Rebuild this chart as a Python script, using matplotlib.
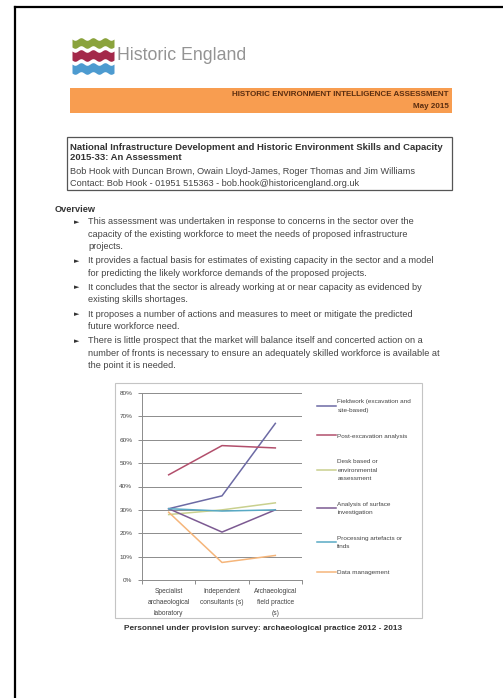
import numpy as np
import matplotlib
matplotlib.use('Agg')
import matplotlib.pyplot as plt
from matplotlib.patches import Rectangle

W, H = 503, 698          # page size in pixels
FONT = 'Liberation Sans'

# chart data ------------------------------------------------------------------------
categories = ['Specialist\narchaeological\nlaboratory',
              'Independent\nconsultants (s)',
              'Archaeological\nfield practice\n(s)']
series_names = ['Fieldwork (excavation and\nsite-based)',
                'Post-excavation analysis',
                'Desk based or\nenvironmental\nassessment',
                'Analysis of surface\ninvestigation',
                'Processing artefacts or\nfinds',
                'Data management']
fieldwork = [0.305, 0.36, 0.67]
post_excavation = [0.45, 0.575, 0.565]
desk_based = [0.28, 0.30, 0.33]
surface = [0.305, 0.205, 0.30]
processing = [0.305, 0.295, 0.30]
data_management = [0.29, 0.075, 0.105]
series_colors = ['#6c6aa4', '#b24f6c', '#c9d08e', '#7c5a92', '#58a9c4', '#f5b57a']
y_ticks = [0.0, 0.1, 0.2, 0.3, 0.4, 0.5, 0.6, 0.7, 0.8]
y_tick_labels = ['0%', '10%', '20%', '30%', '40%', '50%', '60%', '70%', '80%']
caption = 'Personnel under provision survey: archaeological practice 2012 - 2013'

# page text -------------------------------------------------------------------------
banner_lines = ['HISTORIC ENVIRONMENT INTELLIGENCE ASSESSMENT', 'May 2015']
title_lines = ['National Infrastructure Development and Historic Environment Skills and Capacity',
               '2015-33: An Assessment']
author_lines = ['Bob Hook with Duncan Brown, Owain Lloyd-James, Roger Thomas and Jim Williams',
                'Contact: Bob Hook - 01951 515363 - bob.hook@historicengland.org.uk']
bullets = [
    ['This assessment was undertaken in response to concerns in the sector over the',
     'capacity of the existing workforce to meet the needs of proposed infrastructure',
     'projects.'],
    ['It provides a factual basis for estimates of existing capacity in the sector and a model',
     'for predicting the likely workforce demands of the proposed projects.'],
    ['It concludes that the sector is already working at or near capacity as evidenced by',
     'existing skills shortages.'],
    ['It proposes a number of actions and measures to meet or mitigate the predicted',
     'future workforce need.'],
    ['There is little prospect that the market will balance itself and concerted action on a',
     'number of fronts is necessary to ensure an adequately skilled workforce is available at',
     'the point it is needed.'],
]

fig = plt.figure(figsize=(W / 100, H / 100), dpi=100)
fig.patch.set_facecolor('white')

# page layer in pixel coordinates ---------------------------------------------------
page = fig.add_axes([0, 0, 1, 1])
page.set_xlim(0, W)
page.set_ylim(H, 0)
page.axis('off')

# scan border
page.plot([15, 15], [7, H], color='black', lw=1.6)
page.plot([15, W], [7, 7], color='black', lw=1.6)

# logo: three wavy bands
xs = np.linspace(72, 114, 200)
for top, bot, col in [(39, 47, '#8aa33c'), (51, 60, '#a3284a'), (64, 73, '#4d9bd0')]:
    wave = 1.3 * np.sin((xs - 72) / 42 * 2 * np.pi * 3.5)
    page.fill_between(xs, top + wave, bot + wave, color=col, lw=0)
page.text(117, 55, 'Historic England', fontsize=12.8, color='#949494',
          family=FONT, va='center', ha='left')

# orange banner
page.add_patch(Rectangle((70, 88), 382, 25, facecolor='#f89d50', edgecolor='none'))
page.text(449, 95, banner_lines[0], fontsize=5.8, color='#5a2d10', family=FONT,
          weight='bold', ha='right', va='center')
page.text(449, 107, banner_lines[1], fontsize=5.8, color='#5a2d10', family=FONT,
          weight='bold', ha='right', va='center')

# title box
page.add_patch(Rectangle((67, 137), 385, 53, facecolor='none', edgecolor='#555555', lw=0.9))
for i, s in enumerate(title_lines):
    page.text(70, 147 + i * 10, s, fontsize=6.8, color='#333333', family=FONT,
              weight='bold', ha='left', va='center')
for i, s in enumerate(author_lines):
    page.text(70, 171 + i * 12.5, s, fontsize=6.6, color='#444444', family=FONT,
              ha='left', va='center')

# overview bullets
page.text(55, 210, 'Overview', fontsize=6.6, color='#333333', family=FONT,
          weight='bold', ha='left', va='center')
y = 222
for lines in bullets:
    page.text(74, y, '\u25ba', fontsize=5, color='#333333', family='DejaVu Sans',
              ha='left', va='center')
    for s in lines:
        page.text(88, y, s, fontsize=6.6, color='#444444', family=FONT, ha='left', va='center')
        y += 12.3
    y += 2

# chart frame and caption
page.add_patch(Rectangle((115, 383), 307, 235, facecolor='none', edgecolor='#c4c4c4', lw=0.8))
page.text(263, 629, caption, fontsize=5.95, color='#333333', family=FONT,
          weight='bold', ha='center', va='center')

# chart -----------------------------------------------------------------------------
ax = fig.add_axes([142 / W, 1 - 580 / H, 160 / W, (580 - 393) / H])
x = np.arange(len(categories))
all_series = [fieldwork, post_excavation, desk_based, surface, processing, data_management]
for vals, name, col in zip(all_series, series_names, series_colors):
    ax.plot(x, vals, color=col, lw=1.1, label=name)

ax.set_xlim(-0.5, len(categories) - 0.5)
ax.set_ylim(0, 0.8)
ax.set_yticks(y_ticks)
ax.set_yticklabels(y_tick_labels, fontsize=4.6, color='#444444', family=FONT)
ax.set_xticks(x)
ax.set_xticklabels(categories, fontsize=4.8, color='#444444', family=FONT, linespacing=1.75)
ax.set_xticks(np.arange(len(categories) + 1) - 0.5, minor=True)
ax.tick_params(axis='x', which='major', length=0, pad=6)
ax.tick_params(axis='x', which='minor', length=3, color='#8c8c8c', width=0.7)
ax.tick_params(axis='y', length=3, color='#8c8c8c', width=0.7, pad=4)
ax.grid(axis='y', color='#8c8c8c', lw=0.7)
ax.set_axisbelow(True)
for side in ['top', 'right']:
    ax.spines[side].set_visible(False)
for side in ['left', 'bottom']:
    ax.spines[side].set_color('#8c8c8c')
    ax.spines[side].set_linewidth(0.7)
ax.patch.set_alpha(0)

leg = ax.legend(loc='upper left', bbox_to_anchor=(317 / W, 1 - 399 / H),
                bbox_transform=fig.transFigure, frameon=False,
                prop={'family': FONT, 'size': 4.6}, handlelength=2.9,
                handletextpad=0.3, labelspacing=3.2, borderaxespad=0, borderpad=0)
for t in leg.get_texts():
    t.set_color('#444444')
    t.set_linespacing(1.9)

fig.savefig('out.png', dpi=100)
